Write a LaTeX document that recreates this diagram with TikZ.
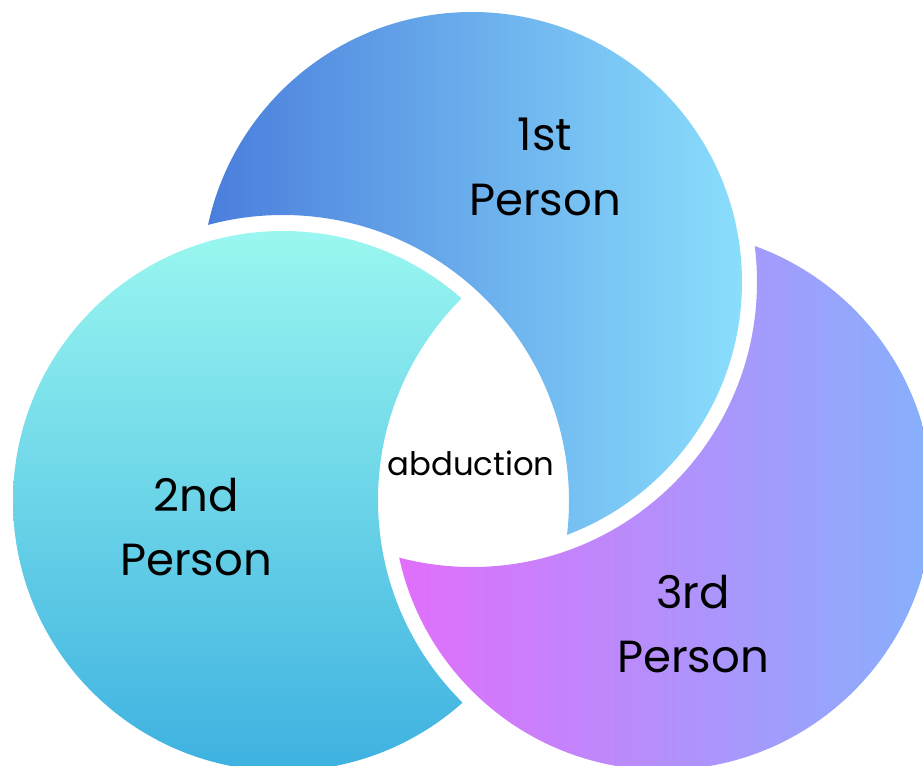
\documentclass[tikz,border=0pt]{standalone}
\usepackage{fontspec}
\setmainfont{Poppins}
\usepackage{xcolor}
\usepackage{tikz}
\usetikzlibrary{positioning}

\definecolor{firstleft}{HTML}{4A7DDC}
\definecolor{firstright}{HTML}{8ADEFC}
\definecolor{secondtop}{HTML}{9AF7F0}
\definecolor{secondbottom}{HTML}{3DB1E0}
\definecolor{thirdleft}{HTML}{E26EFB}
\definecolor{thirdright}{HTML}{86B0FC}

\tikzset{
  persontext/.style={align=center, inner sep=0pt, font=\fontsize{32}{46}\selectfont},
  cuttext/.style={inner sep=0pt, font=\fontsize{23}{26}\selectfont},
  outside/.style={insert path={(-100,-100) rectangle (1100,900)}}
}

\begin{document}
\begin{tikzpicture}[x=0.025cm, y=-0.025cm]
\useasboundingbox (0,0) rectangle (923,765);

% 1st person, cut by the 2nd
\begin{scope}
\clip (283,501) circle (286) [outside];
\shade[left color=firstleft, right color=firstright] (472,282) circle (270);
\end{scope}

% 2nd person, cut by the 3rd
\begin{scope}
\clip (663,500) circle (285) [outside];
\shade[top color=secondtop, bottom color=secondbottom] (283,501) circle (270);
\end{scope}

% 3rd person, cut by the 1st
\begin{scope}
\clip (472,282) circle (285) [outside];
\shade[left color=thirdleft, right color=thirdright] (663,500) circle (270);
\end{scope}

% labels
\node[persontext] (first) at (545,167) {1st\\Person};
\node[persontext] (second) at (196,527) {2nd\\Person};
\node[persontext] (third) at (693,624) {3rd\\Person};
\node[cuttext] (abduction) at (471,463) {abduction};
\end{tikzpicture}
\end{document}
